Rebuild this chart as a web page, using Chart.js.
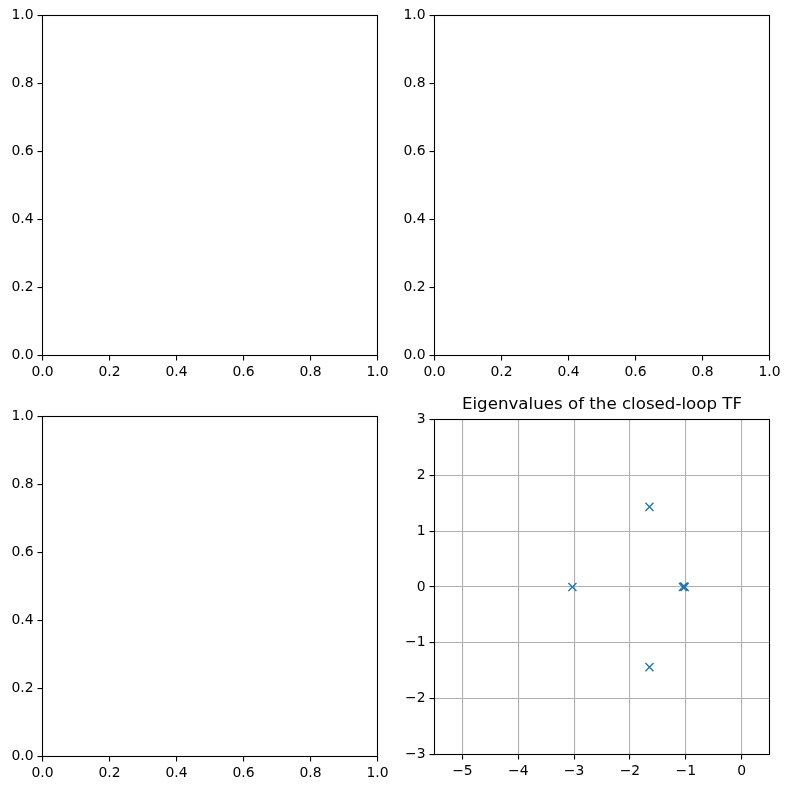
<!DOCTYPE html>
<html>
<head>
<meta charset="utf-8">
<script src="https://cdn.jsdelivr.net/npm/chart.js@4"></script>
<style>
html, body { margin: 0; padding: 0; background: #fff; overflow: hidden; }
canvas { position: absolute; }
</style>
</head>
<body>
<canvas id="ax1"></canvas>
<canvas id="ax2"></canvas>
<canvas id="ax3"></canvas>
<canvas id="ax4"></canvas>
<script>
// values
var eigReal = [-3.03, -1.65, -1.65, -1.05, -1.02, -1.03];
var eigImag = [0, 1.435, -1.435, 0, 0, 0.01];
var eigXTicks = [-5, -4, -3, -2, -1, 0];
var eigYTicks = [-3, -2, -1, 0, 1, 2, 3];
var emptyTicks = [0, 0.2, 0.4, 0.6, 0.8, 1];
var eigTitle = 'Eigenvalues of the closed-loop TF';

var FONT = { family: '"DejaVu Sans"', size: 13.9 };
Chart.defaults.color = '#000';
Chart.defaults.animation = false;
Chart.defaults.devicePixelRatio = 1;

var frame = {
    id: 'frame',
    afterDatasetsDraw: function (chart) {
        var a = chart.chartArea, c = chart.ctx;
        c.save();
        c.strokeStyle = '#000';
        c.lineWidth = 1.1;
        c.strokeRect(a.left, a.top, a.right - a.left, a.bottom - a.top);
        c.restore();
    }
};

function fmt(dec) {
    return function (v) {
        return v.toFixed(dec).replace('-', '\u2212');
    };
}

function axis(pos, min, max, ticks, dec, showGrid, size) {
    return {
        type: 'linear',
        position: pos,
        min: min,
        max: max,
        afterBuildTicks: function (s) {
            s.ticks = ticks.map(function (v) { return { value: v }; });
        },
        afterFit: function (s) {
            if (pos === 'left') s.width = size; else s.height = size;
        },
        border: { display: false },
        grid: {
            drawOnChartArea: showGrid,
            color: '#b0b0b0',
            lineWidth: 1.1,
            tickColor: '#000',
            tickLength: 5,
            tickWidth: 1.1
        },
        ticks: {
            font: FONT,
            color: '#000',
            padding: 4,
            maxRotation: 0,
            autoSkip: false,
            callback: fmt(dec)
        }
    };
}

// box holds the pixel rows and columns of the spines
function makeAxes(id, box, data, xOpt, yOpt, title) {
    var cv = document.getElementById(id);
    var w = box.r - box.l, h = box.b - box.t;
    cv.width = 42 + w + 21;
    cv.height = 31 + h + 30;
    cv.style.left = (box.l - 42) + 'px';
    cv.style.top = (box.t - 30) + 'px';
    return new Chart(cv, {
        type: 'scatter',
        data: { datasets: data },
        options: {
            responsive: false,
            layout: { autoPadding: false, padding: { top: title ? 0 : 30.5, right: 20.5 } },
            scales: {
                x: axis('bottom', xOpt.min, xOpt.max, xOpt.ticks, xOpt.dec, xOpt.grid, 30.5),
                y: axis('left', yOpt.min, yOpt.max, yOpt.ticks, yOpt.dec, yOpt.grid, 42.5)
            },
            plugins: {
                legend: { display: false },
                tooltip: { enabled: false },
                title: {
                    display: !!title,
                    text: title,
                    fullSize: false,
                    color: '#000',
                    font: { family: '"DejaVu Sans"', size: 16.67, weight: 'normal' },
                    padding: { top: 6, bottom: 4.5 }
                }
            }
        },
        plugins: [frame]
    });
}

var unit = { min: 0, max: 1, ticks: emptyTicks, dec: 1, grid: false };

makeAxes('ax1', { l: 42, r: 377, t: 15, b: 355 }, [], unit, unit);
makeAxes('ax2', { l: 434, r: 769, t: 15, b: 355 }, [], unit, unit);
makeAxes('ax3', { l: 42, r: 377, t: 416, b: 756 }, [], unit, unit);

makeAxes('ax4', { l: 434, r: 769, t: 419, b: 754 }, [{
    data: eigReal.map(function (x, i) { return { x: x, y: eigImag[i] }; }),
    showLine: false,
    pointStyle: 'crossRot',
    pointRadius: 5.7,
    pointBorderWidth: 1.4,
    pointBorderColor: '#1f77b4',
    pointBackgroundColor: '#1f77b4'
}], { min: -5.5, max: 0.5, ticks: eigXTicks, dec: 0, grid: true },
   { min: -3, max: 3, ticks: eigYTicks, dec: 0, grid: true }, eigTitle);
</script>
</body>
</html>
